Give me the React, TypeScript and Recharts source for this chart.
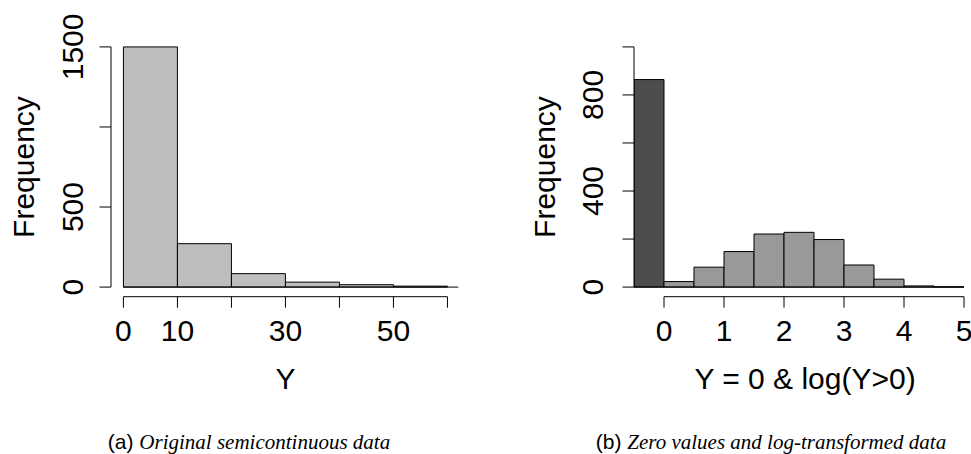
import React from 'react';
import { ComposedChart, Bar, Cell, XAxis, YAxis, ReferenceLine } from 'recharts';

// ---------- data ----------
const leftBinMids = [5, 15, 25, 35, 45, 55];
const leftCounts = [1500, 271, 84, 31, 15, 6];
const leftXTicks = [0, 10, 20, 30, 40, 50, 60];
const leftXTickLabels = ['0', '10', '', '30', '', '50', ''];
const leftYTicks = [0, 500, 1000, 1500];
const leftYTickLabels = ['0', '500', '', '1500'];

const rightBinMids = [-0.25, 0.25, 0.75, 1.25, 1.75, 2.25, 2.75, 3.25, 3.75, 4.25, 4.75];
const rightCounts = [864, 23, 83, 148, 221, 228, 198, 92, 33, 5, 1];
const rightBinGroup = ['zero', 'log', 'log', 'log', 'log', 'log', 'log', 'log', 'log', 'log', 'log'];
const rightXTicks = [0, 1, 2, 3, 4, 5];
const rightXTickLabels = ['0', '1', '2', '3', '4', '5'];
const rightYTicks = [0, 200, 400, 600, 800, 1000];
const rightYTickLabels = ['0', '', '400', '', '800', ''];

const leftTitleX = 'Y';
const rightTitleX = 'Y = 0 & log(Y>0)';
const titleY = 'Frequency';
const captionA = ['(a)', 'Original semicontinuous data'];
const captionB = ['(b)', 'Zero values and log-transformed data'];

const leftData = leftBinMids.map((mid, i) => ({ mid, count: leftCounts[i] }));
const rightData = rightBinMids.map((mid, i) => ({ mid, count: rightCounts[i], group: rightBinGroup[i] }));

// ---------- style ----------
const FONT = "'Liberation Sans', Arial, Helvetica, sans-serif";
const SERIF = "'Liberation Serif', 'Times New Roman', serif";
const NARROW = "'Liberation Sans Narrow', 'Liberation Sans', Arial, sans-serif";
const LIGHT = '#BEBEBE';
const MID = '#999999';
const DARK = '#4D4D4D';

const makeYTick = (ticks: number[], labels: string[]) => (props: any) => {
  const { x, y, payload } = props;
  const i = ticks.indexOf(payload.value);
  const label = i >= 0 ? labels[i] : '';
  return (
    <text
      x={x}
      y={y}
      transform={`rotate(-90 ${x} ${y})`}
      textAnchor="middle"
      fontSize={30}
      fontFamily={FONT}
      fill="#000"
    >
      {label}
    </text>
  );
};

const fmt = (ticks: number[], labels: string[]) => (v: number) => {
  const i = ticks.indexOf(v);
  return i >= 0 ? labels[i] : '';
};

const tickStyle = { fill: '#000', fontSize: 30, fontFamily: FONT };

export default function App() {
  return (
    <div style={{ position: 'absolute', left: 0, top: 0, width: 971, height: 454, background: '#fff', overflow: 'hidden' }}>
      {/* Left panel */}
      <div style={{ position: 'absolute', left: 0, top: 0 }}>
        <ComposedChart
          width={480}
          height={454}
          data={leftData}
          margin={{ top: 37.3, right: 19.6, bottom: 127.3, left: 0 }}
          barCategoryGap={0}
          barGap={0}
        >
          <XAxis
            dataKey="mid"
            type="number"
            domain={[-2.3, 62.4]}
            allowDataOverflow
            ticks={leftXTicks}
            interval={0}
            tickFormatter={fmt(leftXTicks, leftXTickLabels)}
            axisLine={false}
            tickLine={{ stroke: '#000', strokeWidth: 1 }}
            tickSize={11}
            tickMargin={12}
            tick={tickStyle}
            height={30}
          />
          <YAxis
            type="number"
            domain={[-60, 1560]}
            allowDataOverflow
            ticks={leftYTicks}
            interval={0}
            axisLine={false}
            tickLine={{ stroke: '#000', strokeWidth: 1 }}
            tickSize={11.5}
            tickMargin={16.2}
            tick={makeYTick(leftYTicks, leftYTickLabels)}
            width={111}
          />
          <Bar dataKey="count" isAnimationActive={false} fill={LIGHT} stroke="#000" strokeWidth={1}>
            {leftData.map((d, i) => (
              <Cell key={i} fill={LIGHT} />
            ))}
          </Bar>
          <ReferenceLine segment={[{ x: -2.3, y: 0 }, { x: -2.3, y: 1500 }]} stroke="#000" strokeWidth={1} ifOverflow="visible" />
          <ReferenceLine segment={[{ x: 0, y: -60 }, { x: 60, y: -60 }]} stroke="#000" strokeWidth={1} ifOverflow="visible" />
          <ReferenceLine segment={[{ x: 0, y: 0 }, { x: 62, y: 0 }]} stroke="#000" strokeWidth={1} ifOverflow="visible" />
        </ComposedChart>
      </div>

      {/* Right panel */}
      <div style={{ position: 'absolute', left: 490, top: 0 }}>
        <ComposedChart
          width={481}
          height={454}
          data={rightData}
          margin={{ top: 37.3, right: 6.99, bottom: 127.3, left: 0 }}
          barCategoryGap={0}
          barGap={0}
        >
          <XAxis
            dataKey="mid"
            type="number"
            domain={[-0.5, 5]}
            allowDataOverflow
            ticks={rightXTicks}
            interval={0}
            tickFormatter={fmt(rightXTicks, rightXTickLabels)}
            axisLine={false}
            tickLine={{ stroke: '#000', strokeWidth: 1 }}
            tickSize={11}
            tickMargin={12}
            tick={tickStyle}
            height={30}
          />
          <YAxis
            type="number"
            domain={[-40, 1040]}
            allowDataOverflow
            ticks={rightYTicks}
            interval={0}
            axisLine={false}
            tickLine={{ stroke: '#000', strokeWidth: 1 }}
            tickSize={11.5}
            tickMargin={19.2}
            tick={makeYTick(rightYTicks, rightYTickLabels)}
            width={144}
          />
          <Bar dataKey="count" isAnimationActive={false} fill={MID} stroke="#000" strokeWidth={1}>
            {rightData.map((d, i) => (
              <Cell key={i} fill={d.group === 'zero' ? DARK : MID} />
            ))}
          </Bar>
          <ReferenceLine segment={[{ x: -0.5, y: 0 }, { x: -0.5, y: 1000 }]} stroke="#000" strokeWidth={1} ifOverflow="visible" />
          <ReferenceLine segment={[{ x: 0, y: -40 }, { x: 5, y: -40 }]} stroke="#000" strokeWidth={1} ifOverflow="visible" />
          <ReferenceLine segment={[{ x: -0.5, y: 0 }, { x: 5, y: 0 }]} stroke="#000" strokeWidth={1} ifOverflow="visible" />
        </ComposedChart>
      </div>

      {/* Titles and captions */}
      <svg width={971} height={454} style={{ position: 'absolute', left: 0, top: 0, pointerEvents: 'none' }}>
        <text x={33.5} y={167} transform="rotate(-90 33.5 167)" textAnchor="middle" fontSize={30} fontFamily={FONT} fill="#000">
          {titleY}
        </text>
        <text x={555} y={167} transform="rotate(-90 555 167)" textAnchor="middle" fontSize={30} fontFamily={FONT} fill="#000">
          {titleY}
        </text>
        <text x={285.5} y={389} textAnchor="middle" fontSize={30} fontFamily={FONT} fill="#000">
          {leftTitleX}
        </text>
        <text x={805} y={389} textAnchor="middle" fontSize={30} fontFamily={FONT} fill="#000">
          {rightTitleX}
        </text>
        <text x={249} y={449} textAnchor="middle" fill="#000">
          <tspan fontFamily={NARROW} fontSize={21}>{captionA[0]} </tspan>
          <tspan fontFamily={SERIF} fontStyle="italic" fontSize={21}>{captionA[1]}</tspan>
        </text>
        <text x={771} y={449} textAnchor="middle" fill="#000">
          <tspan fontFamily={NARROW} fontSize={21}>{captionB[0]} </tspan>
          <tspan fontFamily={SERIF} fontStyle="italic" fontSize={21}>{captionB[1]}</tspan>
        </text>
      </svg>
    </div>
  );
}
